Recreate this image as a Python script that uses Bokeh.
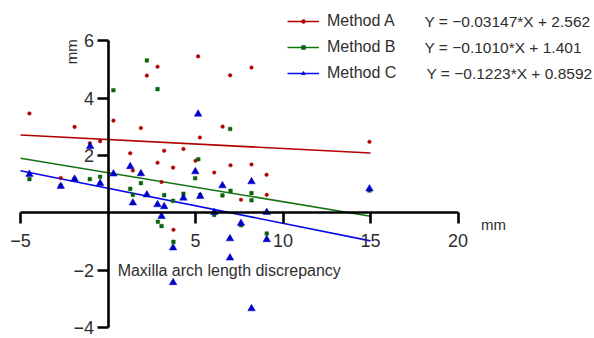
import math
from bokeh.plotting import figure
from bokeh.models import Range1d, FixedTicker, Legend, LegendItem, Label, LinearAxis
from bokeh.embed import file_html
from bokeh.resources import INLINE

# ---- data ----
a_x = [-4.49, -2.7, -1.91, -1.04, -0.45, 0.31, 1.27, 1.42, 1.88, 2.22, 2.83, 2.83, 3.06, 3.21, 3.72,
       3.74, 4.31, 5.0, 5.15, 5.25, 6.07, 6.55, 6.98, 7.0, 7.6, 8.2, 8.2, 9.06, 9.07, 14.94]
a_y = [3.47, 1.22, 3.0, 2.43, 2.50, 3.22, 2.08, 1.48, 2.96, 4.79, 5.10, 1.75, 1.08, 2.17, 1.58,
       -0.59, 2.23, 1.82, 5.46, 2.63, 1.41, 3.01, 4.80, 1.66, 0.46, 5.07, 1.69, 1.33, 0.63, 2.48]

b_x = [-4.49, -2.7, -1.91, -1.04, -0.45, 0.31, 1.27, 1.42, 1.88, 2.22, 2.83, 2.85, 3.06, 3.21, 3.72,
       3.74, 4.31, 4.98, 5.16, 5.27, 6.07, 6.54, 6.98, 7.0, 7.6, 8.2, 8.2, 9.07, 14.94]
b_y = [1.18, 0.95, 1.18, 1.18, 1.26, 4.28, 0.84, 0.63, 1.04, 5.32, 4.32, -0.31, -0.46, 0.62, 0.42,
       -1.01, 0.67, 1.21, 1.87, 0.62, -0.07, 0.61, 2.93, 0.77, -0.43, 0.69, 0.44, -0.72, 0.78]

c_x = [-4.49, -2.7, -1.91, -1.02, -0.45, 0.31, 1.27, 1.42, 1.88, 2.22, 2.83, 3.06, 3.21, 3.72, 3.72,
       4.31, 4.99, 5.15, 5.27, 6.07, 6.54, 6.97, 6.97, 7.6, 8.2, 8.2, 9.07, 9.07, 14.94]
c_y = [1.35, 0.93, 1.18, 2.32, 1.03, 1.36, 1.62, 0.35, 1.37, 0.63, 0.29, -0.12, 0.22, -1.22, -2.43,
       0.52, 1.44, 3.45, 0.58, 0.02, 0.95, -0.90, -1.57, -0.36, 1.09, -3.34, 0.02, -0.93, 0.84]

methods = ["Method A", "Method B", "Method C"]
slopes = [-0.03147, -0.1010, -0.1223]
intercepts = [2.562, 1.401, 0.8592]
equations = ["Y = \u22120.03147*X + 2.562", "Y = \u22120.1010*X + 1.401", "Y = \u22120.1223*X + 0.8592"]
fit_x = [-5, 15]

x_ticks = [-5, 5, 10, 15, 20]
y_ticks = [-4, -2, 2, 4, 6]
x_title = "Maxilla arch length discrepancy"
unit = "mm"

FONT = "Liberation Sans"
TXT = "#2e2e2e"
W, H = 594, 338

p = figure(width=W, height=H,
           x_range=Range1d(-6.143, 27.8), y_range=Range1d(-4.382, 7.411),
           output_backend="svg", toolbar_location=None,
           x_axis_location=None, y_axis_location=None, min_border=0)
p.outline_line_color = None
for g in p.grid:
    g.visible = False


def style_axis(ax):
    ax.axis_line_width = 2.6
    ax.axis_line_color = "black"
    ax.major_tick_line_width = 2.6
    ax.major_tick_line_color = "black"
    ax.major_tick_in = 0
    ax.major_tick_out = 11
    ax.minor_tick_out = 0
    ax.minor_tick_in = 0
    ax.major_label_text_font = FONT
    ax.major_label_text_font_size = "18px"
    ax.major_label_text_color = TXT


xaxis = LinearAxis(fixed_location=0, bounds=(x_ticks[0], x_ticks[-1]),
                   ticker=FixedTicker(ticks=x_ticks),
                   major_label_overrides={t: str(t).replace("-", "\u2212") for t in x_ticks})
style_axis(xaxis)
xaxis.major_label_standoff = 10
p.add_layout(xaxis, "below")

yaxis = LinearAxis(fixed_location=0, bounds=(y_ticks[0], y_ticks[-1]),
                   ticker=FixedTicker(ticks=y_ticks),
                   major_label_overrides={t: str(t).replace("-", "\u2212") for t in y_ticks})
style_axis(yaxis)
yaxis.major_label_standoff = 3
p.add_layout(yaxis, "left")

line_colors = ["#b40000", "#137313", "#0a0aee"]
pt_colors = ["#b00000", "#0b640b", "#0000cc"]
xs = [a_x, b_x, c_x]
ys = [a_y, b_y, c_y]
markers = ["circle", "square", "triangle"]
sizes = [3.6, 3.6, 7.5]

line_rs = []
for i in range(3):
    fy = [slopes[i] * v + intercepts[i] for v in fit_x]
    line_rs.append(p.line(fit_x, fy, line_color=line_colors[i], line_width=1.6))

pt_rs = []
for i in range(3):
    pt_rs.append(p.scatter(xs[i], ys[i], marker=markers[i], size=sizes[i],
                           fill_color=pt_colors[i], line_color=pt_colors[i], line_width=0.5))

items = [LegendItem(label=methods[i], renderers=[line_rs[i], pt_rs[i]]) for i in range(3)]
legend = Legend(items=items, location=(287, 255), orientation="vertical",
                glyph_width=32, glyph_height=10, label_height=20, label_standoff=8,
                spacing=6, padding=0, margin=0,
                border_line_color=None, background_fill_alpha=0,
                label_text_font=FONT, label_text_font_size="16px", label_text_color=TXT)
p.add_layout(legend, "center")

eq_x = [424, 424, 426]
eq_y = [317.3, 291.3, 265.3]
for i in range(3):
    p.add_layout(Label(x=eq_x[i], y=eq_y[i], x_units="screen", y_units="screen",
                       text=equations[i], text_font=FONT, text_font_size="15.5px",
                       text_color=TXT, text_baseline="middle", text_align="left"))

p.add_layout(Label(x=0.55, y=-2.0, text=x_title, text_font=FONT, text_font_size="16px",
                   text_color=TXT, text_baseline="middle", text_align="left"))
p.add_layout(Label(x=-2.09, y=5.62, text=unit, angle=math.pi / 2, text_font=FONT,
                   text_font_size="15px", text_color=TXT, text_baseline="middle",
                   text_align="center"))
p.add_layout(Label(x=22.03, y=-0.41, text=unit, text_font=FONT, text_font_size="15px",
                   text_color=TXT, text_baseline="middle", text_align="center"))

open("out.html", "w").write(file_html(p, INLINE))
